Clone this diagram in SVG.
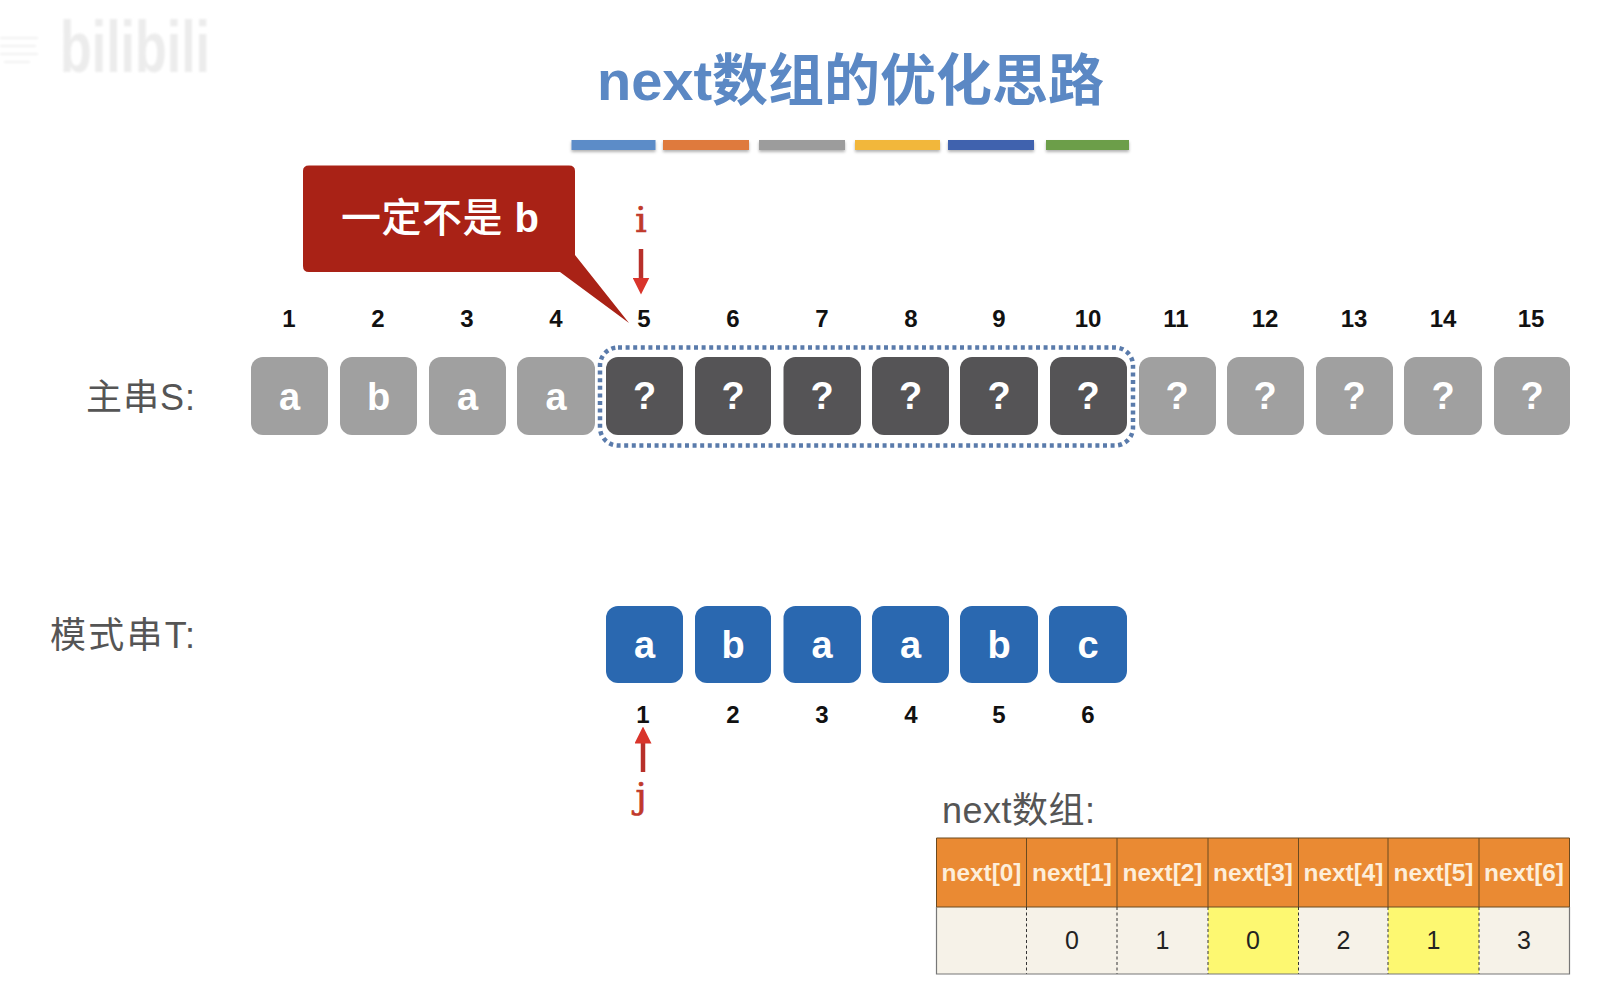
<svg xmlns="http://www.w3.org/2000/svg" width="1613" height="1002" viewBox="0 0 1613 1002">
<style>
text{font-family:"Liberation Sans","Noto Sans CJK SC",sans-serif}
.num{font-size:24px;font-weight:700;fill:#111;text-anchor:middle}
.cell{font-size:38px;font-weight:700;fill:#fff;text-anchor:middle}
.lab{font-size:36px;fill:#555}
.g{fill:#a0a0a0}.d{fill:#555456}.b{fill:#2a68b0}
.ptr{font-family:"DejaVu Serif",serif;font-size:36px;fill:#c0392b;stroke:#c0392b;stroke-width:.7;text-anchor:middle}
.hd{font-size:24.4px;font-weight:700;fill:#fdeeda;text-anchor:middle}
.v{font-size:25px;fill:#222;text-anchor:middle}
.sep{stroke:#333;stroke-width:1;stroke-dasharray:3 2.5}
.hl{stroke:#6b4a20;stroke-width:1}
</style>
<defs>
<filter id="sh" x="-5%" y="-30%" width="110%" height="190%"><feDropShadow dx="0" dy="2" stdDeviation="1.5" flood-color="#000" flood-opacity=".3"/></filter>
<filter id="soft"><feGaussianBlur stdDeviation="1.2"/></filter>
<marker id="ah" viewBox="0 0 17 17" refX="0.5" refY="8.5" markerWidth="17" markerHeight="17" markerUnits="userSpaceOnUse" orient="auto"><path d="M0 0L17 8.5L0 17Z" fill="#d9342b"/></marker>
</defs>
<rect width="1613" height="1002" fill="#fff"/>
<g id="watermark" filter="url(#soft)">
<text x="60" y="72" font-size="72" font-weight="700" textLength="150" lengthAdjust="spacingAndGlyphs" style="fill:#ececec">bilibili</text>
<path d="M0 38H38M0 46H36M0 54H38M4 62H30" stroke="#f2f2f2" stroke-width="2"/>
</g>
<g id="title">
<text x="597" y="100" font-size="56" font-weight="700" textLength="507" lengthAdjust="spacingAndGlyphs" style="fill:#5b88c4">next数组的优化思路</text>
<g filter="url(#sh)">
<rect x="571.5" y="140" width="84" height="10" fill="#5b8cc8"/>
<rect x="663" y="140" width="86" height="10" fill="#df7a3c"/>
<rect x="759" y="140" width="86" height="10" fill="#9c9c9c"/>
<rect x="855" y="140" width="85" height="10" fill="#f2b73a"/>
<rect x="948" y="140" width="86" height="10" fill="#3f62ae"/>
<rect x="1046" y="140" width="83" height="10" fill="#6c9e48"/>
</g>
</g>
<g id="callout">
<path d="M309 165.500H569Q575 165.500 575 171V255L629 323L560 272H309Q303 272 303 266V171Q303 165.500 309 165.500Z" fill="#a92216"/>
<text x="341" y="232" font-size="40" font-weight="500" textLength="198" style="fill:#fff">一定不是 <tspan font-weight="700">b</tspan></text>
</g>
<g id="label-s"><text class="lab" x="86" y="410" textLength="109">主串S:</text></g>
<g id="label-t"><text class="lab" x="50" y="648" textLength="145">模式串T:</text></g>
<g id="s-numbers">
<text class="num" x="289" y="327">1</text><text class="num" x="378" y="327">2</text><text class="num" x="467" y="327">3</text><text class="num" x="556" y="327">4</text><text class="num" x="644" y="327">5</text><text class="num" x="733" y="327">6</text><text class="num" x="822" y="327">7</text><text class="num" x="911" y="327">8</text><text class="num" x="999" y="327">9</text><text class="num" x="1088" y="327">10</text><text class="num" x="1176" y="327">11</text><text class="num" x="1265" y="327">12</text><text class="num" x="1354" y="327">13</text><text class="num" x="1443" y="327">14</text><text class="num" x="1531" y="327">15</text>
</g>
<g id="s1"><rect class="g" x="251" y="357" width="77" height="78" rx="12"/><text class="cell" x="289.500" y="410">a</text></g>
<g id="s2"><rect class="g" x="340" y="357" width="77" height="78" rx="12"/><text class="cell" x="378.500" y="410">b</text></g>
<g id="s3"><rect class="g" x="429" y="357" width="77" height="78" rx="12"/><text class="cell" x="467.500" y="410">a</text></g>
<g id="s4"><rect class="g" x="517" y="357" width="78" height="78" rx="12"/><text class="cell" x="556" y="410">a</text></g>
<g id="s5"><rect class="d" x="606" y="357" width="77" height="78" rx="12"/><text class="cell" x="644.500" y="409">?</text></g>
<g id="s6"><rect class="d" x="695" y="357" width="76" height="78" rx="12"/><text class="cell" x="733" y="409">?</text></g>
<g id="s7"><rect class="d" x="783.500" y="357" width="77.500" height="78" rx="12"/><text class="cell" x="822" y="409">?</text></g>
<g id="s8"><rect class="d" x="872" y="357" width="77" height="78" rx="12"/><text class="cell" x="910.500" y="409">?</text></g>
<g id="s9"><rect class="d" x="960" y="357" width="78" height="78" rx="12"/><text class="cell" x="999" y="409">?</text></g>
<g id="s10"><rect class="d" x="1050" y="357" width="77" height="78" rx="12"/><text class="cell" x="1088" y="409">?</text></g>
<g id="s11"><rect class="g" x="1139" y="357" width="77" height="78" rx="12"/><text class="cell" x="1177" y="409">?</text></g>
<g id="s12"><rect class="g" x="1227" y="357" width="77" height="78" rx="12"/><text class="cell" x="1265" y="409">?</text></g>
<g id="s13"><rect class="g" x="1316" y="357" width="77" height="78" rx="12"/><text class="cell" x="1354" y="409">?</text></g>
<g id="s14"><rect class="g" x="1404" y="357" width="78" height="78" rx="12"/><text class="cell" x="1443" y="409">?</text></g>
<g id="s15"><rect class="g" x="1494" y="357" width="76" height="78" rx="12"/><text class="cell" x="1532" y="409">?</text></g>
<g id="window"><rect x="600" y="347.500" width="533" height="98" rx="18" fill="none" stroke="#5a7bab" stroke-width="4.500" stroke-dasharray="4 3.600"/></g>
<g id="t1"><rect class="b" x="606" y="606" width="77" height="77" rx="12"/><text class="cell" x="644.500" y="658">a</text></g>
<g id="t2"><rect class="b" x="695" y="606" width="76" height="77" rx="12"/><text class="cell" x="733" y="658">b</text></g>
<g id="t3"><rect class="b" x="783.500" y="606" width="77.500" height="77" rx="12"/><text class="cell" x="822" y="658">a</text></g>
<g id="t4"><rect class="b" x="872" y="606" width="77" height="77" rx="12"/><text class="cell" x="910.500" y="658">a</text></g>
<g id="t5"><rect class="b" x="960" y="606" width="78" height="77" rx="12"/><text class="cell" x="999" y="658">b</text></g>
<g id="t6"><rect class="b" x="1049" y="606" width="78" height="77" rx="12"/><text class="cell" x="1088" y="658">c</text></g>
<g id="t-numbers">
<text class="num" x="643" y="723">1</text><text class="num" x="733" y="723">2</text><text class="num" x="822" y="723">3</text><text class="num" x="911" y="723">4</text><text class="num" x="999" y="723">5</text><text class="num" x="1088" y="723">6</text>
</g>
<g id="pointer-i"><text class="ptr" x="641" y="232">i</text></g>
<g id="pointer-j"><text class="ptr" x="641" y="808">j</text></g>
<g id="connectors" stroke="#b8302a" stroke-width="4.500" fill="none">
<path d="M641 249V278" marker-end="url(#ah)"/>
<path d="M643 772V743" marker-end="url(#ah)"/>
</g>
<g id="next-label"><text class="lab" x="942" y="823" textLength="153">next数组:</text></g>
<g id="next-table">
<rect x="936.500" y="838" width="633" height="69" fill="#ea8a33"/>
<rect x="936.500" y="907" width="633" height="67" fill="#f6f2e8"/>
<rect x="1208" y="907" width="90.500" height="67" fill="#fdf871"/>
<rect x="1388" y="907" width="91" height="67" fill="#fdf871"/>
<path class="hl" d="M936.500 838H1569.500V907H936.500ZM1026.500 838V907M1117 838V907M1208 838V907M1298.500 838V907M1388 838V907M1479 838V907" fill="none"/>
<path class="sep" d="M1026.500 907V974M1117 907V974M1208 907V974M1298.500 907V974M1388 907V974M1479 907V974"/>
<path d="M936.500 907V974H1569.500V907" fill="none" stroke="#777" stroke-width="1.200"/>
<text class="hd" x="981.500" y="881">next[0]</text><text class="hd" x="1072" y="881">next[1]</text><text class="hd" x="1162.500" y="881">next[2]</text><text class="hd" x="1253" y="881">next[3]</text><text class="hd" x="1343.500" y="881">next[4]</text><text class="hd" x="1433.500" y="881">next[5]</text><text class="hd" x="1524" y="881">next[6]</text>
<text class="v" x="1072" y="949">0</text><text class="v" x="1162.500" y="949">1</text><text class="v" x="1253" y="949">0</text><text class="v" x="1343.500" y="949">2</text><text class="v" x="1433.500" y="949">1</text><text class="v" x="1524" y="949">3</text>
</g>
</svg>
